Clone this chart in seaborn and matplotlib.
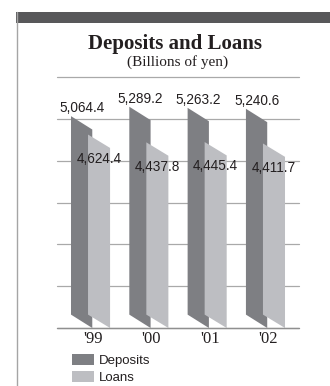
import numpy as np
import pandas as pd
import seaborn as sns
import matplotlib.pyplot as plt
import matplotlib.transforms as mtransforms
from matplotlib.patches import Polygon, Rectangle
from matplotlib.lines import Line2D

# data (billions of yen)
years = ["'99", "'00", "'01", "'02"]
deposits = [5064.4, 5289.2, 5263.2, 5240.6]
loans = [4624.4, 4437.8, 4445.4, 4411.7]

dark = "#7e7f83"
light = "#bdbec2"
ink = "#231f20"
grid_col = "#a9a9a9"

df = pd.DataFrame({
    "year": years * 2,
    "value": deposits + loans,
    "series": ["Deposits"] * len(years) + ["Loans"] * len(years),
})

sns.set_theme(style="white")
plt.rcParams['font.family'] = ['Liberation Sans Narrow', 'Liberation Sans', 'DejaVu Sans']

W, H = 330, 386
fig = plt.figure(figsize=(W / 100, H / 100), dpi=100)
fig.patch.set_facecolor("white")

# top band and left rule
fig.add_artist(Rectangle((16 / W, 1 - 22.7 / H), 1 - 16 / W, 10.4 / H,
                         transform=fig.transFigure, facecolor="#58585a", edgecolor="none"))
fig.add_artist(Line2D([16.6 / W, 16.6 / W], [0, 1 - 12.3 / H],
                      transform=fig.transFigure, color="#a5a5a5", lw=1.0))

ax = fig.add_axes([57 / W, 1 - 328 / H, 242 / W, 251 / H])
sns.barplot(data=df, x="year", y="value", hue="series", palette=[dark, light],
            width=0.67, errorbar=None, saturation=1, legend=False, ax=ax)

# turn the flat bars into slanted "ribbons"
s = 320  # slant drop in data units
bars = list(ax.patches)
for p in bars:
    x0 = p.get_x()
    w = p.get_width()
    h = p.get_height()
    c = x0 + w / 2
    is_dep = c < round(c)
    if is_dep:
        x1 = x0 + w + 0.03
    else:
        x0 = x0 - 0.043
        x1 = x0 + w + 0.043
    fc = p.get_facecolor()
    p.remove()
    poly = Polygon([(x0, h), (x1, h - s), (x1, 0), (x0, s)], closed=True,
                   facecolor=fc, edgecolor="none", zorder=2 if is_dep else 3)
    ax.add_patch(poly)
    mid = (x0 + x1) / 2
    if is_dep:
        ax.annotate(f"{h:,.1f}", (mid, h), xytext=(0, 0.5), textcoords="offset points",
                    ha="center", va="bottom", fontsize=9.8, color=ink, zorder=5)
    else:
        ax.annotate(f"{h:,.1f}", (mid, h), xytext=(0, -17.6), textcoords="offset points",
                    ha="center", va="center", fontsize=9.8, color=ink, zorder=5)

ax.set_xlim(-0.575, 3.575)
ax.set_ylim(0, 6000)
ax.set_yticks(range(0, 7000, 1000))
ax.yaxis.grid(True, color=grid_col, lw=0.9)
for gl in ax.get_ygridlines():
    gl.set_clip_on(False)
ax.axhline(0, color="#8f8f8f", lw=1.0, zorder=4, clip_on=False)
ax.set_axisbelow(True)
ax.tick_params(axis="y", left=False, labelleft=False, length=0)
ax.tick_params(axis="x", bottom=False, length=0, pad=2)
shift = mtransforms.ScaledTranslation(2.5 / 100, 0, fig.dpi_scale_trans)
for lbl in ax.get_xticklabels():
    lbl.set_fontfamily(["Liberation Serif", "DejaVu Serif"])
    lbl.set_fontsize(12)
    lbl.set_color(ink)
    lbl.set_transform(lbl.get_transform() + shift)
ax.set_xlabel("")
ax.set_ylabel("")
for sp in ax.spines.values():
    sp.set_visible(False)
ax.patch.set_alpha(0)

# titles
fig.text(175 / W, 1 - 49.5 / H, "Deposits and Loans", ha="center", va="baseline",
         fontsize=15, fontweight="bold", family=["Liberation Serif", "DejaVu Serif"], color=ink)
fig.text(178 / W, 1 - 65.5 / H, "(Billions of yen)", ha="center", va="baseline",
         fontsize=11, family=["Liberation Serif", "DejaVu Serif"], color=ink)

# legend
handles = [Rectangle((0, 0), 1, 1, facecolor=dark, edgecolor="none"),
           Rectangle((0, 0), 1, 1, facecolor=light, edgecolor="none")]
fig.legend(handles, ["Deposits", "Loans"], loc="upper left",
           bbox_to_anchor=(72 / W, 1 - 353.5 / H), frameon=False, fontsize=9.5,
           handlelength=1.65, handleheight=0.95, handletextpad=0.35,
           labelspacing=0.3, borderpad=0, borderaxespad=0, labelcolor=ink)

fig.savefig("out.png", dpi=100)
